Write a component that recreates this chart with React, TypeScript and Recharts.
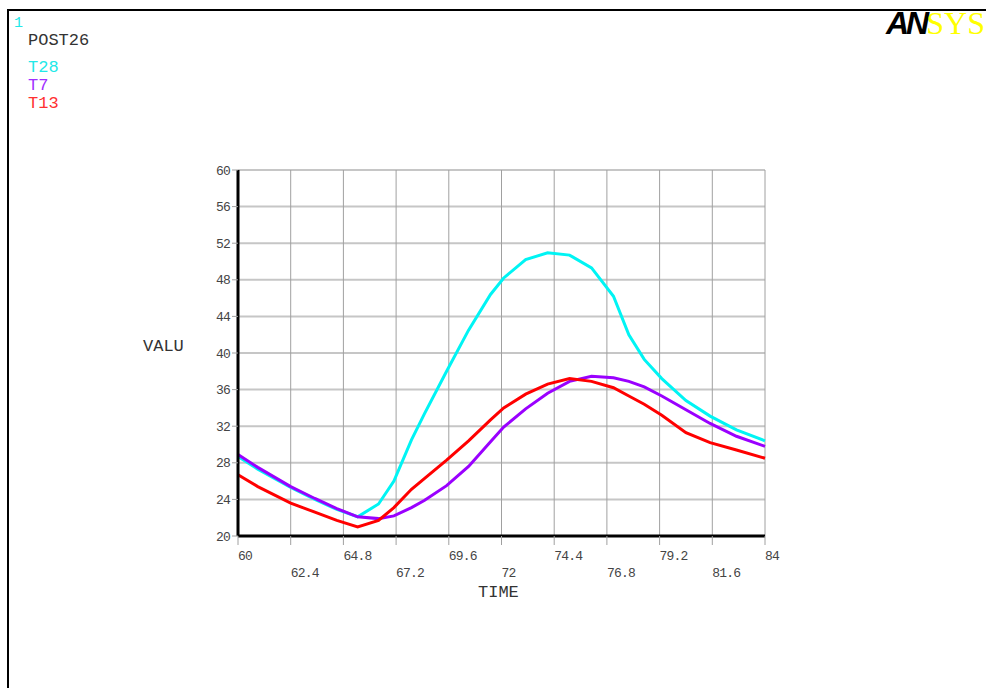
import { LineChart, Line, XAxis, YAxis, CartesianGrid } from 'recharts';

const times = [60, 60.9, 62.4, 63.5, 64.5, 65.45, 66.4, 67.1, 67.9, 68.5, 69.5, 70.5, 71.5, 72.1, 73.1, 74.1, 75.1, 76.1, 77.1, 77.8, 78.5, 79.3, 80.4, 81.5, 82.7, 84];
const t28 = [28.7, 27.3, 25.3, 24.0, 22.9, 22.1, 23.5, 26.0, 30.5, 33.4, 38.0, 42.5, 46.4, 48.2, 50.2, 50.95, 50.7, 49.3, 46.2, 42.0, 39.3, 37.2, 34.8, 33.1, 31.6, 30.4];
const t7 = [28.9, 27.5, 25.4, 24.1, 23.0, 22.1, 21.9, 22.2, 23.1, 23.9, 25.5, 27.6, 30.3, 31.9, 33.9, 35.6, 36.9, 37.45, 37.3, 36.9, 36.3, 35.3, 33.8, 32.3, 30.9, 29.8];
const t13 = [26.7, 25.4, 23.6, 22.6, 21.7, 21.0, 21.7, 23.1, 25.1, 26.3, 28.3, 30.4, 32.7, 34.0, 35.5, 36.6, 37.2, 36.9, 36.2, 35.3, 34.4, 33.2, 31.3, 30.2, 29.4, 28.5];

const xTicks = [60, 62.4, 64.8, 67.2, 69.6, 72, 74.4, 76.8, 79.2, 81.6, 84];
const xTickLabels = ['60', '62.4', '64.8', '67.2', '69.6', '72', '74.4', '76.8', '79.2', '81.6', '84'];
const yTicks = [20, 24, 28, 32, 36, 40, 44, 48, 52, 56, 60];

const data = times.map((t, i) => ({ time: t, T28: t28[i], T7: t7[i], T13: t13[i] }));

const mono = '"Liberation Mono", "Courier New", monospace';

function XTick(props: any) {
  const { x, y, index } = props;
  const dy = index % 2 === 0 ? 15 : 32;
  return (
    <text x={x} y={y + dy} textAnchor="start" fontFamily={mono} fontSize={13} letterSpacing={-0.8} fill="#444">
      {xTickLabels[index]}
    </text>
  );
}

function YTick(props: any) {
  const { x, y, payload } = props;
  return (
    <text x={x} y={y + 4.5} textAnchor="end" fontFamily={mono} fontSize={13} letterSpacing={-0.8} fill="#444">
      {payload.value}
    </text>
  );
}

export default function App() {
  return (
    <div style={{ position: 'absolute', left: 0, top: 0, width: 986, height: 688, overflow: 'hidden', background: '#fff' }}>
      <div style={{ position: 'absolute', left: 7, top: 9, width: 990, height: 700, borderTop: '2px solid #000', borderLeft: '2px solid #000' }} />
      <div style={{ position: 'absolute', left: 14, top: 15, fontFamily: mono, fontSize: 15, color: '#22e8e8' }}>1</div>
      <div style={{ position: 'absolute', left: 28, top: 31, fontFamily: mono, fontSize: 17, color: '#333' }}>POST26</div>
      <div style={{ position: 'absolute', left: 28, top: 58, fontFamily: mono, fontSize: 17, color: '#22e8e8' }}>T28</div>
      <div style={{ position: 'absolute', left: 28, top: 76, fontFamily: mono, fontSize: 17, color: '#a030ff' }}>T7</div>
      <div style={{ position: 'absolute', left: 28, top: 94, fontFamily: mono, fontSize: 17, color: '#ff3030' }}>T13</div>
      <div style={{ position: 'absolute', left: 886, top: 6, whiteSpace: 'nowrap', lineHeight: '34px' }}>
        <span style={{ fontFamily: '"Liberation Sans", Arial', fontWeight: 900, fontStyle: 'italic', fontSize: 32, color: '#000', letterSpacing: -3 }}>AN</span>
        <span style={{ fontFamily: '"Liberation Serif", serif', fontSize: 32, color: '#ffff00' }}>SYS</span>
      </div>
      <div style={{ position: 'absolute', left: 143, top: 337, fontFamily: mono, fontSize: 17, color: '#333' }}>VALU</div>
      <div style={{ position: 'absolute', left: 478, top: 583, fontFamily: mono, fontSize: 17, color: '#333' }}>TIME</div>
      <LineChart width={986} height={688} data={data} margin={{ top: 170, right: 221, left: 0, bottom: 0 }} style={{ position: 'absolute', left: 0, top: 0 }}>
        <CartesianGrid vertical={false} stroke="#c6c6c6" strokeWidth={2} horizontalValues={yTicks} />
        <CartesianGrid horizontal={false} stroke="#a0a0a0" strokeWidth={1} verticalValues={xTicks} />
        <XAxis
          dataKey="time"
          type="number"
          domain={[60, 84]}
          ticks={xTicks}
          interval={0}
          height={152}
          axisLine={{ stroke: '#000', strokeWidth: 3 }}
          tickLine={{ stroke: '#a0a0a0' }}
          tickSize={9}
          tickMargin={0}
          tick={<XTick />}
        />
        <YAxis
          type="number"
          domain={[20, 60]}
          ticks={yTicks}
          interval={0}
          width={238}
          axisLine={{ stroke: '#000', strokeWidth: 3 }}
          tickLine={{ stroke: '#a0a0a0' }}
          tickSize={6}
          tickMargin={2}
          tick={<YTick />}
        />
        <Line type="linear" dataKey="T28" stroke="#00f4f4" strokeWidth={3} dot={false} isAnimationActive={false} />
        <Line type="linear" dataKey="T7" stroke="#9a00ff" strokeWidth={3} dot={false} isAnimationActive={false} />
        <Line type="linear" dataKey="T13" stroke="#ff0000" strokeWidth={3} dot={false} isAnimationActive={false} />
      </LineChart>
    </div>
  );
}
